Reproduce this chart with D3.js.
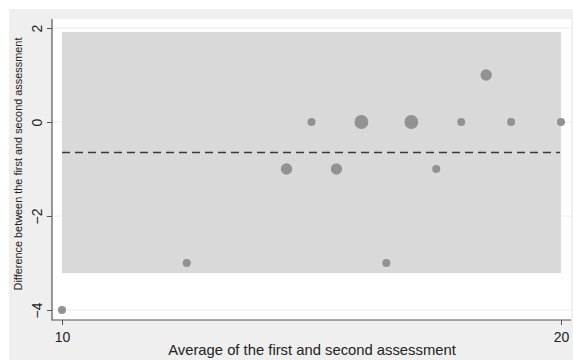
<!DOCTYPE html>
<html>
<head>
<meta charset="utf-8">
<script src="https://cdn.jsdelivr.net/npm/d3@7/dist/d3.min.js"></script>
<style>
  html, body { margin: 0; padding: 0; background: #ffffff; }
  svg { display: block; font-family: "Liberation Sans", Arial, sans-serif; }
</style>
</head>
<body>
<svg id="chart" width="573" height="360"></svg>
<script>
// Bland–Altman plot: mean of two assessments vs. their difference
const averages    = [10, 12.5, 14.5, 15, 15.5, 16, 16.5, 17, 17.5, 18, 18.5, 19, 20];
const differences = [-4, -3,   -1,   0,  -1,   0,  -3,   0,  -1,   0,  1,    0,  0];
const counts      = [1,  1,    2,    1,  2,    3,  1,    3,  1,    1,  2,    1,  1];

const xTicks = [10, 20];
const yTicks = [-4, -2, 0, 2];
const xTitle = "Average of the first and second assessment";
const yTitle = "Difference between the first and second assessment";

// Mean difference and 95% limits of agreement over all observations
const obs = averages.flatMap((a, i) => d3.range(counts[i]).map(() => differences[i]));
const meanDiff = d3.mean(obs);
const sdDiff = d3.deviation(obs);
const upperLoA = meanDiff + 1.96 * sdDiff;
const lowerLoA = meanDiff - 1.96 * sdDiff;

const svg = d3.select("#chart");

// graph region and plot region backgrounds
svg.append("rect").attr("x", 9).attr("y", 9).attr("width", 564).attr("height", 351).attr("fill", "#efefef");
svg.append("rect").attr("x", 52).attr("y", 19).attr("width", 519).attr("height", 301).attr("fill", "#ffffff");

const x = d3.scaleLinear().domain([10, 20]).range([62, 561]);
const y = d3.scaleLinear().domain([-4, 2]).range([310, 28]);
const r = d3.scaleSqrt().domain([0, 1]).range([0, 4]);

// horizontal grid lines
svg.append("g").selectAll("line").data(yTicks).join("line")
  .attr("x1", 52).attr("x2", 571)
  .attr("y1", d => y(d)).attr("y2", d => y(d))
  .attr("stroke", "#ececec").attr("stroke-width", 1);

// limits-of-agreement band
svg.append("rect")
  .attr("x", x(10)).attr("width", x(20) - x(10))
  .attr("y", y(upperLoA)).attr("height", y(lowerLoA) - y(upperLoA))
  .attr("fill", "#d9d9d9");

// mean difference
svg.append("line")
  .attr("x1", x(10)).attr("x2", x(20) - 1)
  .attr("y1", y(meanDiff)).attr("y2", y(meanDiff))
  .attr("stroke", "#3a3a3a").attr("stroke-width", 1.6)
  .attr("stroke-dasharray", "8,5");

// frequency-weighted markers
svg.append("g").selectAll("circle").data(averages.map((a, i) => i)).join("circle")
  .attr("cx", i => x(averages[i]))
  .attr("cy", i => y(differences[i]))
  .attr("r", i => r(counts[i]))
  .attr("fill", "#929292");

// axes
const yAxis = svg.append("g").attr("transform", "translate(52,0)")
  .call(d3.axisLeft(y).tickValues(yTicks).tickSize(5).tickPadding(3).tickFormat(d3.format("d")));
const xAxis = svg.append("g").attr("transform", "translate(0,320)")
  .call(d3.axisBottom(x).tickValues(xTicks).tickSize(5).tickPadding(4).tickFormat(d3.format("d")));

[xAxis, yAxis].forEach(g => {
  g.select(".domain").remove();
  g.selectAll(".tick line").attr("stroke", "#555");
  g.selectAll(".tick text").attr("fill", "#222").style("font-size", "14px")
    .style("font-family", "'Liberation Sans', Arial, sans-serif");
});
xAxis.selectAll(".tick text").attr("dy", null).attr("y", 22);
yAxis.selectAll(".tick text")
  .attr("transform", "rotate(-90)")
  .attr("x", 0).attr("dy", null).attr("y", -10)
  .attr("text-anchor", "middle");

// axis lines
svg.append("line").attr("x1", 52).attr("x2", 52).attr("y1", 19).attr("y2", 320.5)
  .attr("stroke", "#555").attr("stroke-width", 1.2);
svg.append("line").attr("x1", 52).attr("x2", 571).attr("y1", 320).attr("y2", 320)
  .attr("stroke", "#555").attr("stroke-width", 1.2);

// titles
svg.append("text").attr("x", 312).attr("y", 355).attr("text-anchor", "middle")
  .attr("fill", "#222").style("font-size", "14.8px").text(xTitle);
svg.append("text").attr("transform", "translate(22,164) rotate(-90)")
  .attr("text-anchor", "middle").attr("fill", "#222").style("font-size", "10.9px").text(yTitle);
</script>
</body>
</html>
